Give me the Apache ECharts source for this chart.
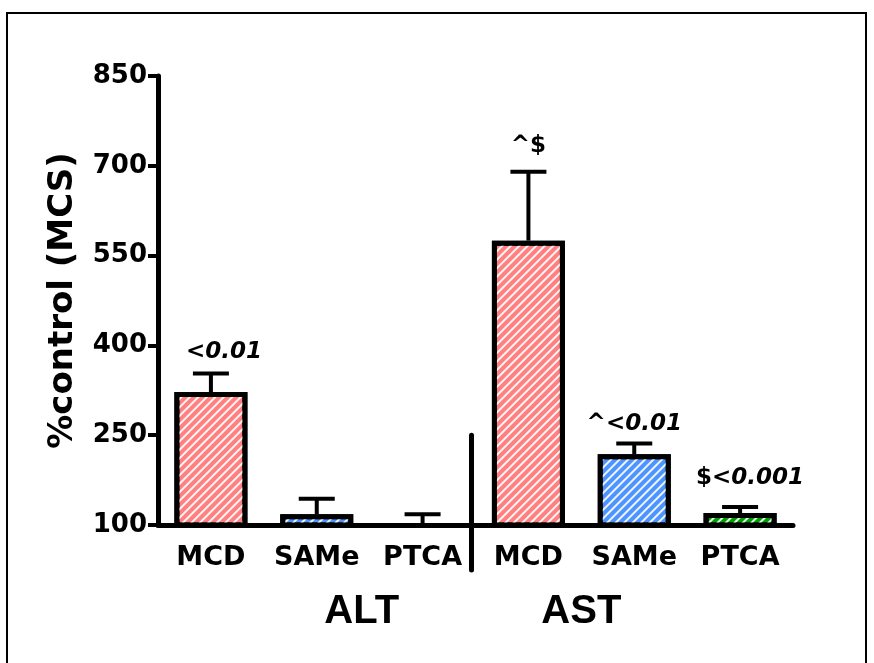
<!DOCTYPE html>
<html>
<head>
<meta charset="utf-8">
<script src="https://cdn.jsdelivr.net/npm/echarts@6/dist/echarts.min.js"></script>
<style>
html, body { margin: 0; padding: 0; background: #fff; }
#chart { width: 874px; height: 663px; }
</style>
</head>
<body>
<div id="chart"></div>
<script>
// data
const categories = ['MCD', 'SAMe', 'PTCA', 'MCD', 'SAMe', 'PTCA'];
const groups = ['ALT', 'AST'];
const means = [322, 118, 100, 575, 218, 120];      // % control (MCS)
const errTops = [353, 144, 118, 690, 236, 130];    // mean + error
const notes = ['<0.01', '', '', '^$', '^<0.01', '$<0.001'];
const yTicks = [100, 250, 400, 550, 700, 850];

// styles
const fills = ['#ff8080', '#4d94ff', '#00a000', '#ff8080', '#4d94ff', '#00a000'];
const noteShift = [[13, -2], [0, 0], [0, 0], [0, -6], [0, 0], [10, -10]];
const hatch = {
  symbol: 'rect',
  symbolSize: 1,
  color: 'rgba(255,255,255,0.9)',
  dashArrayX: [1, 0],
  dashArrayY: [1.6, 3.4],
  rotation: -Math.PI / 4
};
const font = 'DejaVu Sans';

const chart = echarts.init(document.getElementById('chart'));

function noteText(s) {
  if (!s) return '';
  const m = s.match(/^([^0-9.]*)(.*)$/);
  return (m[1] ? '{s|' + m[1] + '}' : '') + (m[2] ? '{n|' + m[2] + '}' : '');
}

const option = {
  animation: false,
  backgroundColor: '#fff',
  grid: { left: 158, right: 81, top: 76, bottom: 138 },
  xAxis: {
    type: 'category',
    data: categories,
    z: 5,
    axisLine: { lineStyle: { color: '#000', width: 5 } },
    axisTick: { alignWithLabel: true, length: 13, lineStyle: { color: '#000', width: 4 } },
    axisLabel: { interval: 0, color: '#000', fontFamily: font, fontWeight: 'bold', fontSize: 27, margin: 19 }
  },
  yAxis: {
    type: 'value',
    min: yTicks[0],
    max: yTicks[yTicks.length - 1],
    interval: yTicks[1] - yTicks[0],
    z: 5,
    name: '%control (MCS)',
    nameLocation: 'middle',
    nameRotate: 90,
    nameGap: 78,
    nameTextStyle: { color: '#000', fontFamily: font, fontWeight: 'bold', fontSize: 34 },
    axisLine: { show: true, lineStyle: { color: '#000', width: 5 } },
    axisTick: { show: true, length: 10, lineStyle: { color: '#000', width: 4 } },
    axisLabel: { color: '#000', fontFamily: font, fontWeight: 'bold', fontSize: 26, margin: 11 },
    splitLine: { show: false }
  },
  series: [
    {
      type: 'custom',
      z: 1,
      data: means.map((v, i) => [i, v, errTops[i]]),
      renderItem: function (params, api) {
        const base = api.coord([api.value(0), api.value(1)]);
        const top = api.coord([api.value(0), api.value(2)]);
        const st = { stroke: '#000', lineWidth: 4 };
        return {
          type: 'group',
          children: [
            { type: 'line', shape: { x1: base[0], y1: base[1], x2: top[0], y2: top[1] }, style: st },
            { type: 'line', shape: { x1: top[0] - 18, y1: top[1], x2: top[0] + 18, y2: top[1] }, style: st }
          ]
        };
      }
    },
    {
      type: 'bar',
      z: 2,
      barWidth: 73,
      data: means.map((v, i) => ({
        value: v,
        itemStyle: { color: fills[i], decal: hatch, borderColor: '#000', borderWidth: 5 }
      }))
    },
    {
      type: 'scatter',
      z: 4,
      symbolSize: 0,
      itemStyle: { opacity: 1 },
      data: errTops.map((v, i) => ({
        value: [i, v],
        label: { offset: noteShift[i] }
      })),
      label: {
        show: true,
        position: 'top',
        distance: 8,
        color: '#000',
        opacity: 1,
        formatter: p => noteText(notes[p.dataIndex]),
        rich: {
          s: { color: '#000', fontFamily: font, fontWeight: 'bold', fontSize: 23 },
          n: { color: '#000', fontFamily: font, fontWeight: 'bold', fontStyle: 'italic', fontSize: 23 }
        }
      }
    }
  ]
};
chart.setOption(option);

// group separator and group names
const px = i => chart.convertToPixel({ xAxisIndex: 0 }, i);
const py = v => chart.convertToPixel({ yAxisIndex: 0 }, v);
const sepX = (px(2) + px(3)) / 2 - 4;
chart.setOption({
  graphic: [
    {
      type: 'rect',
      shape: { x: 7, y: 13, width: 859, height: 700 },
      style: { fill: 'none', stroke: '#000', lineWidth: 2 },
      silent: true
    },
    {
      type: 'line',
      shape: { x1: sepX, y1: py(250), x2: sepX, y2: py(100) + 45 },
      style: { stroke: '#000', lineWidth: 5, lineCap: 'round' }
    },
    {
      type: 'text',
      x: (px(1) + px(2)) / 2 - 8,
      y: 612,
      style: { text: groups[0], fill: '#000', font: 'bold 40px "Liberation Sans"', align: 'center', verticalAlign: 'middle' }
    },
    {
      type: 'text',
      x: (px(3) + px(4)) / 2,
      y: 612,
      style: { text: groups[1], fill: '#000', font: 'bold 40px "Liberation Sans"', align: 'center', verticalAlign: 'middle' }
    }
  ]
});
</script>
</body>
</html>
